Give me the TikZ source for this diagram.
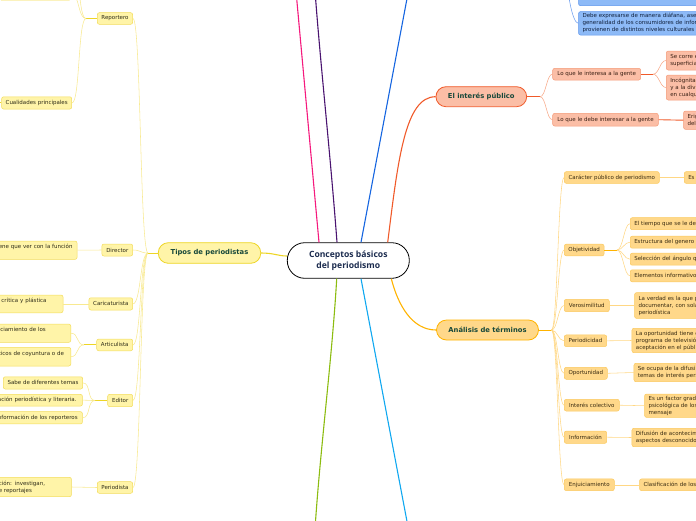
\documentclass[tikz,border=0pt]{standalone}
\usepackage{fontspec}
\setmainfont{DejaVu Sans}
\newfontfamily\titlefont{Open Sans}
\definecolor{ylf}{HTML}{FFF4A8}
\definecolor{ylb}{HTML}{F3DC5A}
\definecolor{ymain}{HTML}{EDD525}
\definecolor{ythin}{HTML}{F8E990}
\definecolor{ytx}{HTML}{2E2C18}
\definecolor{slf}{HTML}{FBBEA6}
\definecolor{slb}{HTML}{F49A78}
\definecolor{smain}{HTML}{F05A2A}
\definecolor{sthin}{HTML}{F7A888}
\definecolor{stx}{HTML}{3A2014}
\definecolor{olf}{HTML}{FFD88A}
\definecolor{olb}{HTML}{FBC95E}
\definecolor{omain}{HTML}{FFB300}
\definecolor{othin}{HTML}{FFD784}
\definecolor{otx}{HTML}{3A2C12}
\definecolor{blf}{HTML}{8DBAF7}
\definecolor{blb}{HTML}{5D95EC}
\definecolor{bthin}{HTML}{6E9FEF}
\definecolor{btx}{HTML}{10203C}
\definecolor{bmain}{HTML}{1565E0}
\definecolor{mtx}{HTML}{17483A}
\definecolor{navy}{HTML}{1B2B4E}
\definecolor{pinkc}{HTML}{F5197D}
\definecolor{purplec}{HTML}{4A1470}
\definecolor{greenc}{HTML}{8CBC10}
\definecolor{lbluec}{HTML}{10A8F0}
\begin{document}
\begin{tikzpicture}[x=1pt,y=-1pt,
  leaf/.style={rounded corners=2pt, line width=0.5pt, font=\fontsize{5.5}{7}\selectfont, inner xsep=4pt, inner ysep=1pt},
  leafY/.style={leaf, draw=ylb, fill=ylf, text=ytx},
  leafS/.style={leaf, draw=slb, fill=slf, text=stx},
  leafO/.style={leaf, draw=olb, fill=olf, text=otx},
  leafB/.style={leaf, draw=blb, fill=blf, text=btx},
  lpart/.style={anchor=east, align=left},
  rpart/.style={anchor=west, align=left, text width=160pt},
  mainnode/.style={rounded corners=10pt, line width=0.8pt, font=\bfseries\fontsize{6.8}{8}\selectfont, text=mtx},
  branch/.style={line width=1.1pt},
  hubline/.style={line width=0.9pt},
  thin/.style={line width=0.55pt},
  fanL/.style={out=180, in=0, out distance=8pt, in distance=8pt},
  fanR/.style={out=0, in=180, out distance=6pt, in distance=6pt}
]
\useasboundingbox (0,0) rectangle (696,520);

% centre
\node[draw=black, line width=0.8pt, fill=white, rounded corners=17.5pt, minimum width=122pt, minimum height=35.6pt, align=center, font=\titlefont\bfseries\fontsize{8.6}{11.5}\selectfont, text=navy] (cen) at (348.3,260.5) {Conceptos básicos\\del periodismo};

% free ends of branches leaving the picture
\coordinate (pinkend) at (295.7,-12);
\coordinate (purpend) at (314.8,-12);
\coordinate (blueend) at (409,-12);
\coordinate (greenend) at (314.8,532);
\coordinate (lblueend) at (409,532);

\draw[branch, pinkc] ([xshift=-29.3pt]cen.north) -- (pinkend);
\draw[branch, purplec] ([xshift=-11.3pt]cen.north) .. controls (330,150) and (320,60) .. (purpend);
\draw[branch, bmain] ([xshift=12.7pt]cen.north) -- (blueend);
\draw[branch, greenc] ([xshift=-11.6pt]cen.south) .. controls (332,360) and (320,450) .. (greenend);
\draw[branch, lbluec] ([xshift=12.7pt]cen.south) -- (lblueend);

% ---------- Tipos de periodistas ----------
\node[mainnode, draw=ymain, fill=ylf, minimum width=102.4pt, minimum height=20.6pt] (tipos) at (209.5,253) {Tipos de periodistas};
\draw[branch, ymain] (tipos.east) .. controls (274,253) and (278,256) .. ([yshift=4.5pt]cen.west);

\node[leafY, minimum width=35.4pt, minimum height=11.6pt] (rep) at (115,18.5) {Reportero};
\node[leafY, minimum width=30.7pt, minimum height=12pt] (dir) at (117.3,250) {Director};
\node[leafY, minimum width=43.7pt, minimum height=12.3pt] (car) at (110.8,303.9) {Caricaturista};
\node[leafY, minimum width=36pt, minimum height=11.7pt] (art) at (114.7,344.9) {Articulista};
\node[leafY, minimum width=25pt, minimum height=12.4pt] (edi) at (120.2,400.5) {Editor};
\node[leafY, minimum width=35.4pt, minimum height=11.6pt] (per) at (115,487.5) {Periodista};

\coordinate (hubT) at (148,253);
\draw[hubline, ymain] (tipos.west) -- (hubT);
\foreach \c in {rep,dir,car,art,edi,per}
  \draw[thin, ythin] (hubT) to[fanL] (\c.east);

% Reportero children
\node[leafY, minimum width=70pt, minimum height=12.3pt] (cual) at (36.7,102.9) {Cualidades principales};
\node[leafY, anchor=east, minimum width=72pt, minimum height=12pt] (topleaf) at (71.5,-6) {};
\coordinate (topfree) at (72,-40);
\coordinate (cualfree) at (-12,102.9);
\coordinate (hubR) at (86,18.5);
\draw[hubline, ymain] (rep.west) -- (hubR);
\draw[thin, ythin] (hubR) to[fanL] (cual.east);
\draw[thin, ythin] (hubR) to[fanL] (topleaf.east);
\draw[thin, ythin] (hubR) to[fanL] (topfree);
\draw[hubline, ymain] (cual.west) -- (cualfree);

% Director
\node[leafY, lpart, text width=74.3pt, minimum height=18.3pt] (dirc) at (77.3,250.2) {\mbox{ene que ver con la función}\\\mbox{}};
\draw[thin, ythin] (dir.west) -- (dirc.east);
% Caricaturista
\node[leafY, lpart, text width=57.6pt, minimum height=17.7pt] (carc) at (63.3,303.9) {\mbox{crítica y plástica}\\\mbox{}};
\draw[thin, ythin] (car.west) -- (carc.east);
% Articulista
\node[leafY, lpart, text width=68pt, minimum height=18.3pt] (artc1) at (71,333.2) {\mbox{iciamiento de los}\\\mbox{}};
\node[leafY, lpart, text width=68pt, minimum height=18.7pt] (artc2) at (71,356.7) {\mbox{ticos de coyuntura o de}\\\mbox{}};
\coordinate (hubA) at (84,344.9);
\draw[hubline, ymain] (art.west) -- (hubA);
\draw[thin, ythin] (hubA) to[fanL] (artc1.east);
\draw[thin, ythin] (hubA) to[fanL] (artc2.east);
% Editor
\node[leafY, minimum width=79.4pt, minimum height=12.3pt] (edic1) at (43,382.9) {Sabe de diferentes temas};
\node[leafY, lpart, text width=80.5pt, minimum height=11.7pt] (edic2) at (82.7,400.2) {\mbox{ación periodística y literaria.}};
\node[leafY, lpart, text width=80.5pt, minimum height=12.3pt] (edic3) at (82.7,417.8) {\mbox{nformación de los reporteros}};
\coordinate (hubE) at (95,400.5);
\draw[hubline, ymain] (edi.west) -- (hubE);
\foreach \c in {edic1,edic2,edic3}
  \draw[thin, ythin] (hubE) to[fanL] (\c.east);
% Periodista
\node[leafY, lpart, text width=68.7pt, minimum height=19.4pt] (perc) at (71.7,487) {\mbox{ción: investigan,}\\\mbox{e reportajes}};
\draw[thin, ythin] (per.west) -- (perc.east);

% ---------- El interés público ----------
\node[mainnode, draw=smain, fill=slf, minimum width=90.7pt, minimum height=20pt] (int) at (481.3,96.7) {El interés público};
\draw[branch, smain] ([xshift=39.4pt]cen.north) .. controls (398,160) and (405,96.7) .. (int.west);
\node[leafS, minimum width=88pt, minimum height=11.7pt] (int1) at (596.7,74.2) {Lo que le interesa a la gente};
\node[leafS, minimum width=105.6pt, minimum height=12.7pt] (int2) at (605.5,119.7) {Lo que le debe interesar a la gente};
\coordinate (hubI) at (540,96.7);
\draw[hubline, smain] (int.east) -- (hubI);
\draw[thin, sthin] (hubI) to[fanR] (int1.west);
\draw[thin, sthin] (hubI) to[fanR] (int2.west);
\node[leafS, rpart, minimum height=19pt] (int1a) at (666,60.5) {Se corre e\\superficia};
\node[leafS, rpart, minimum height=25pt] (int1b) at (666,87.5) {Incógnita\\y a la div\\en cualqu};
\coordinate (hubI1) at (653,74.2);
\draw[hubline, smain] (int1.east) -- (hubI1);
\draw[thin, sthin] (hubI1) to[fanR] (int1a.west);
\draw[thin, sthin] (hubI1) to[fanR] (int1b.west);
\node[leafS, rpart, minimum height=18.3pt] (int2a) at (683.3,120.2) {Erig\\del};
\draw[hubline, smain] (int2.east) -- (int2a.west);

% ---------- Análisis de términos ----------
\node[mainnode, draw=omain, fill=olf, minimum width=102pt, minimum height=20pt] (ana) at (487.5,330) {Análisis de términos};
\draw[branch, omain] ([xshift=43pt]cen.south) .. controls (398,305) and (412,330) .. (ana.west);
\node[leafO, minimum width=95pt, minimum height=11.7pt] (carp) at (611.8,177.5) {Carácter público de periodismo};
\node[leafO, minimum width=39.7pt, minimum height=11.7pt] (obj) at (584.2,250) {Objetividad};
\node[leafO, minimum width=45pt, minimum height=12.3pt] (ver) at (586.8,305.5) {Verosimilitud};
\node[leafO, minimum width=42.4pt, minimum height=11.7pt] (peri) at (585.5,340.8) {Periodicidad};
\node[leafO, minimum width=43pt, minimum height=12pt] (opo) at (585.8,373.3) {Oportunidad};
\node[leafO, minimum width=55pt, minimum height=11.7pt] (ico) at (591.8,405.2) {Interés colectivo};
\node[leafO, minimum width=42.4pt, minimum height=12.3pt] (inf) at (585.5,437.2) {Información};
\node[leafO, minimum width=50pt, minimum height=11.7pt] (enj) at (589.3,484.8) {Enjuiciamiento};
\coordinate (hubN) at (551.5,330);
\draw[hubline, omain] (ana.east) -- (hubN);
\foreach \c in {carp,obj,ver,peri,opo,ico,inf,enj}
  \draw[thin, othin] (hubN) to[fanR] (\c.west);

\node[leafO, rpart, minimum height=11.7pt] (carpa) at (684,177.5) {Es};
\draw[thin, othin] (carp.east) -- (carpa.west);

\node[leafO, rpart, minimum height=12pt] (obj1) at (630,223.7) {El tiempo que se le de};
\node[leafO, rpart, minimum height=12pt] (obj2) at (630,242.2) {Estructura del genero};
\node[leafO, rpart, minimum height=12pt] (obj3) at (630,259.2) {Selección del ángulo q};
\node[leafO, rpart, minimum height=12pt] (obj4) at (630,275.8) {Elementos informativo};
\coordinate (hubO) at (617,250);
\draw[hubline, omain] (obj.east) -- (hubO);
\foreach \c in {obj1,obj2,obj3,obj4}
  \draw[thin, othin] (hubO) to[fanR] (\c.west);

\node[leafO, rpart, minimum height=25.7pt] (vera) at (634.3,305.5) {La verdad es la que p\\documentar, con sola\\periodística};
\draw[thin, othin] (ver.east) -- (vera.west);
\node[leafO, rpart, minimum height=24.4pt] (peria) at (631.7,340.5) {La oportunidad tiene q\\programa de televisió\\aceptación en el públ};
\draw[thin, othin] (peri.east) -- (peria.west);
\node[leafO, rpart, minimum height=18.4pt] (opoa) at (633.7,372.5) {Se ocupa de la difusi\\temas de interés pers};
\draw[thin, othin] (opo.east) -- (opoa.west);
\node[leafO, rpart, minimum height=23.3pt] (icoa) at (644.3,405.7) {Es un factor grad\\psicológica de los\\mensaje};
\draw[thin, othin] (ico.east) -- (icoa.west);
\node[leafO, rpart, minimum height=18.4pt] (infa) at (631.7,437.5) {Difusión de acontecim\\aspectos desconocido};
\draw[thin, othin] (inf.east) -- (infa.west);
\node[leafO, rpart, minimum height=11.7pt] (enja) at (639.3,484.8) {Clasificación de los};
\draw[thin, othin] (enj.east) -- (enja.west);

% ---------- blue leaves at top ----------
\node[leafB, rpart, minimum height=19.4pt] (blu1) at (578.3,-4) {\mbox{}\\conversación correctamente ordinaria};
\node[leafB, rpart, minimum height=23.4pt] (blu2) at (578.3,23.3) {Debe expresarse de manera diáfana, ase\\generalidad de los consumidores de infor\\provienen de distintos niveles culturales y};
\coordinate (hubB) at (566,-40);
\draw[thin, bthin] (hubB) to[out=270, in=180, out distance=20pt, in distance=6pt] (blu1.west);
\draw[thin, bthin] (hubB) to[out=270, in=180, out distance=30pt, in distance=6pt] (blu2.west);
\end{tikzpicture}
\end{document}
